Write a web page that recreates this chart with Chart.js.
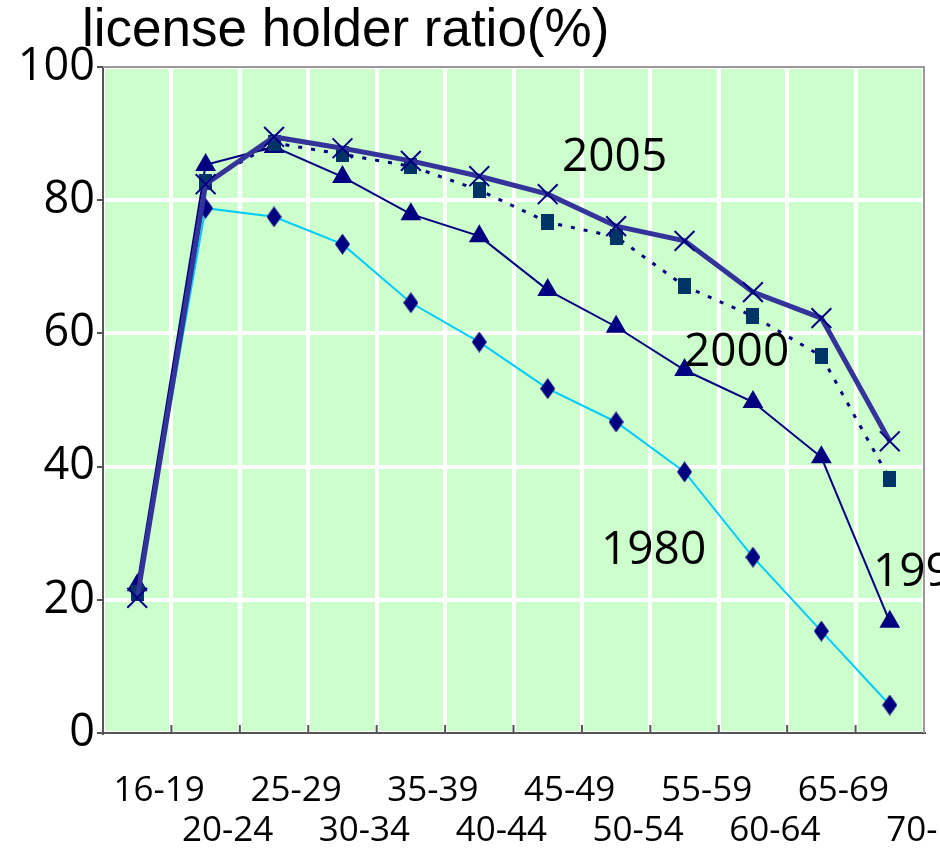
<!DOCTYPE html>
<html>
<head>
<meta charset="utf-8">
<script src="https://cdn.jsdelivr.net/npm/chart.js@4/dist/chart.umd.min.js"></script>
<style>
  html, body { margin: 0; padding: 0; background: #fff; }
  #wrap { width: 940px; height: 851px; }
</style>
</head>
<body>
<div id="wrap"><canvas id="ratioChart" width="940" height="851"></canvas></div>
<script>
// age groups and license holder ratio (%) per survey year
const ageGroups = ['16-19', '20-24', '25-29', '30-34', '35-39', '40-44', '45-49', '50-54', '55-59', '60-64', '65-69', '70-'];
const ratio1980 = [21.5, 78.8, 77.5, 73.4, 64.6, 58.7, 51.7, 46.7, 39.2, 26.4, 15.3, 4.2];
const ratio1990 = [22.2, 85.3, 88.0, 83.5, 77.9, 74.6, 66.5, 61.0, 54.5, 49.7, 41.4, 16.7];
const ratio2000 = [21.0, 82.7, 88.6, 86.9, 85.1, 81.5, 76.7, 74.5, 67.1, 62.6, 56.6, 38.1];
const ratio2005 = [20.3, 82.4, 89.5, 87.8, 85.9, 83.6, 80.9, 76.1, 73.9, 66.2, 62.3, 43.8];
const yTicks = [0, 20, 40, 60, 80, 100];

const NAVY = '#000080';

// custom markers
function makeMarker(w, h, color, shape) {
    const c = document.createElement('canvas');
    c.width = w;
    c.height = h;
    const g = c.getContext('2d');
    g.fillStyle = color;
    g.beginPath();
    if (shape === 'diamond') {
        g.moveTo(w / 2, 0);
        g.lineTo(w, h / 2);
        g.lineTo(w / 2, h);
        g.lineTo(0, h / 2);
        g.closePath();
    } else {
        g.rect(0, 0, w, h);
    }
    g.fill();
    return c;
}
const diamondMark = makeMarker(15, 21, NAVY, 'diamond');
const squareMark = makeMarker(13, 16, '#003366', 'square');

// plot frame, inner x ticks and year labels
const framePlugin = {
    id: 'frame',
    beforeDraw(chart) {
        const { ctx, chartArea: a } = chart;
        ctx.save();
        ctx.fillStyle = '#CCFFCC';
        ctx.fillRect(a.left, a.top, a.right - a.left, a.bottom - a.top);
        ctx.restore();
    },
    afterDatasetsDraw(chart) {
        const { ctx, chartArea: a, scales } = chart;
        ctx.save();
        ctx.strokeStyle = '#999';
        ctx.lineWidth = 2;
        ctx.beginPath();
        ctx.moveTo(a.left, a.top);
        ctx.lineTo(a.right, a.top);
        ctx.lineTo(a.right, a.bottom);
        ctx.stroke();

        // short tick marks pointing into the plot
        ctx.strokeStyle = '#555';
        ctx.lineWidth = 2;
        const x = scales.x;
        for (let i = 1; i < ageGroups.length; i++) {
            const px = (x.getPixelForValue(i - 1) + x.getPixelForValue(i)) / 2;
            ctx.beginPath();
            ctx.moveTo(px, a.bottom);
            ctx.lineTo(px, a.bottom - 8);
            ctx.stroke();
        }

        // title
        ctx.fillStyle = '#000';
        ctx.font = '53px "Liberation Sans", Arial, sans-serif';
        ctx.textBaseline = 'alphabetic';
        ctx.fillText('license holder ratio(%)', 82, 46);

        // year labels
        ctx.font = '46px "Open Sans", sans-serif';
        ctx.fillText('2005', 562, 171);
        ctx.fillText('2000', 684, 366);
        ctx.fillText('1980', 601, 564);
        ctx.fillText('1990', 873, 586);
        ctx.restore();
    }
};

const ctx = document.getElementById('ratioChart').getContext('2d');
new Chart(ctx, {
    type: 'line',
    data: {
        labels: ageGroups,
        datasets: [
            {
                label: '2005',
                data: ratio2005,
                borderColor: '#333399',
                borderWidth: 5,
                pointStyle: 'crossRot',
                pointRadius: 14,
                pointBorderWidth: 2,
                pointBorderColor: NAVY,
                pointBackgroundColor: NAVY,
                tension: 0
            },
            {
                label: '2000',
                data: ratio2000,
                borderColor: NAVY,
                borderWidth: 3,
                borderDash: [4, 9],
                pointStyle: squareMark,
                tension: 0
            },
            {
                label: '1990',
                data: ratio1990,
                borderColor: NAVY,
                borderWidth: 2,
                pointStyle: 'triangle',
                pointRadius: 10,
                pointBackgroundColor: NAVY,
                pointBorderColor: NAVY,
                tension: 0
            },
            {
                label: '1980',
                data: ratio1980,
                borderColor: '#00CCFF',
                borderWidth: 2,
                pointStyle: diamondMark,
                tension: 0
            }
        ]
    },
    options: {
        responsive: false,
        animation: false,
        layout: { padding: { top: 67, right: 15, left: 0, bottom: 0 } },
        plugins: {
            legend: { display: false },
            tooltip: { enabled: false }
        },
        scales: {
            x: {
                offset: true,
                grid: {
                    offset: true,
                    color: '#fff',
                    lineWidth: 4,
                    drawTicks: false
                },
                border: { color: '#555', width: 2 },
                ticks: {
                    autoSkip: false,
                    maxRotation: 0,
                    minRotation: 0,
                    labelOffset: 22,
                    padding: 38,
                    color: '#000',
                    font: { family: '"Open Sans", sans-serif', size: 35, lineHeight: 1.15 },
                    callback: (v, i) => i % 2 === 0 ? [ageGroups[i], ''] : ['', ageGroups[i]]
                },
                afterFit: s => {
                    s.height = 118;
                    s.paddingLeft = 0;
                    s.paddingRight = 0;
                }
            },
            y: {
                min: 0,
                max: 100,
                afterBuildTicks: s => { s.ticks = yTicks.map(v => ({ value: v })); },
                grid: {
                    color: '#fff',
                    lineWidth: 4,
                    tickColor: '#555',
                    tickWidth: 2,
                    tickLength: 6
                },
                border: { color: '#555', width: 2 },
                ticks: {
                    padding: 2,
                    color: '#000',
                    font: { family: '"Open Sans", sans-serif', size: 45 }
                },
                afterFit: s => { s.width = 103; }
            }
        }
    },
    plugins: [framePlugin]
});
</script>
</body>
</html>
